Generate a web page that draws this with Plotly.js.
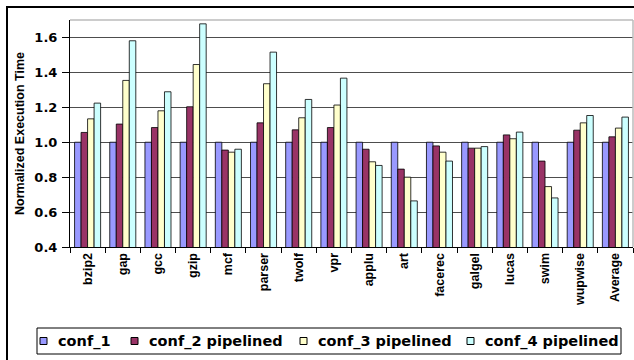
<!DOCTYPE html>
<html>
<head>
<meta charset="utf-8">
<script src="https://cdn.plot.ly/plotly-3.0.1.min.js"></script>
<style>
html,body{margin:0;padding:0;background:#fff;}
#chart{width:634px;height:360px;}
</style>
</head>
<body>
<div id="chart"></div>
<script>
const categories = ["bzip2","gap","gcc","gzip","mcf","parser","twolf","vpr","applu","art","facerec","galgel","lucas","swim","wupwise","Average"];
const conf1 = [1.0,1.0,1.0,1.0,1.0,1.0,1.0,1.0,1.0,1.0,1.0,1.0,1.0,1.0,1.0,1.0];
const conf2 = [1.056,1.104,1.084,1.203,0.955,1.111,1.071,1.084,0.960,0.846,0.979,0.966,1.042,0.892,1.069,1.031];
const conf3 = [1.134,1.354,1.180,1.445,0.943,1.335,1.140,1.213,0.888,0.800,0.943,0.966,1.020,0.746,1.111,1.081];
const conf4 = [1.224,1.581,1.289,1.678,0.960,1.516,1.245,1.367,0.867,0.664,0.892,0.975,1.058,0.681,1.153,1.144];
const seriesNames = ["conf_1","conf_2 pipelined","conf_3 pipelined","conf_4 pipelined"];
const seriesColors = ["#9999FF","#993366","#FFFFCC","#CCFFFF"];
const seriesValues = [conf1, conf2, conf3, conf4];

const traces = seriesValues.map((vals, i) => ({
  type: 'bar',
  name: seriesNames[i],
  x: categories,
  y: vals,
  base: 0,
  marker: {color: seriesColors[i], line: {color: '#000000', width: 0.8}},
  hoverinfo: 'skip',
  showlegend: false
}));

const L = 70, R = 633, T = 20, B = 247, W = 634, H = 360;
const pw = R - L, ph = B - T;
const px = v => (v - L) / pw;
const py = v => (B - v) / ph;

// legend key (drawn as a boxed key under the plot)
const legLeft = 37, legRight = 621, legTop = 328, legBottom = 354;
const legMid = (legTop + legBottom) / 2;
const keyX = [40, 131, 300, 467];
const keySize = 7, keyGap = 9;

const shapes = [
  {type: 'line', xref: 'paper', yref: 'paper', x0: 0, x1: 1, y0: 1, y1: 1,
   line: {color: '#bbbbbb', width: 1.5}},
  {type: 'line', xref: 'paper', yref: 'paper', x0: 1, x1: 1, y0: 0, y1: 1,
   line: {color: '#bbbbbb', width: 1.5}},
  {type: 'rect', xref: 'paper', yref: 'paper', x0: px(7), x1: px(700), y0: py(420), y1: py(7),
   line: {color: '#000000', width: 2}, fillcolor: 'rgba(0,0,0,0)', layer: 'above'},
  {type: 'rect', xref: 'paper', yref: 'paper', x0: px(legLeft), x1: px(legRight), y0: py(legBottom), y1: py(legTop),
   line: {color: '#000000', width: 1}, fillcolor: '#ffffff', layer: 'above'}
];
const annotations = [];
seriesNames.forEach((name, i) => {
  shapes.push({type: 'rect', xref: 'paper', yref: 'paper',
    x0: px(keyX[i]), x1: px(keyX[i] + keySize),
    y0: py(legMid + keySize / 2), y1: py(legMid - keySize / 2),
    line: {color: '#000000', width: 1}, fillcolor: seriesColors[i], layer: 'above'});
  annotations.push({xref: 'paper', yref: 'paper', x: px(keyX[i] + keySize + keyGap), y: py(legMid),
    xanchor: 'left', yanchor: 'middle', showarrow: false, text: name,
    font: {family: 'DejaVu Sans', size: 14.5, weight: 'bold', color: '#000'}});
});

const layout = {
  width: W, height: H,
  margin: {l: L, r: W - R, t: T, b: H - B, pad: 0},
  paper_bgcolor: '#ffffff',
  plot_bgcolor: '#ffffff',
  barmode: 'group',
  bargap: 0.26,
  bargroupgap: 0,
  showlegend: false,
  xaxis: {
    type: 'category',
    tickangle: -90,
    tickson: 'boundaries',
    ticks: 'outside', ticklen: 5, tickcolor: '#000', tickwidth: 1,
    showline: true, linecolor: '#000', linewidth: 1,
    showgrid: false,
    tickfont: {family: 'Liberation Sans', size: 12.5, weight: 'bold', color: '#000'},
    fixedrange: true
  },
  yaxis: {
    range: [0.4, 1.7],
    dtick: 0.2, tick0: 0.4,
    tickformat: '.1f',
    ticks: 'outside', ticklen: 7, tickcolor: '#000', tickwidth: 1,
    ticklabelstandoff: 2,
    showline: true, linecolor: '#000', linewidth: 1,
    showgrid: true, gridcolor: '#4d4d4d', gridwidth: 1,
    zeroline: false,
    tickfont: {family: 'DejaVu Sans', size: 13, weight: 'bold', color: '#000'},
    title: {text: 'Normalized Execution Time', standoff: 6,
            font: {family: 'Liberation Sans', size: 12.5, weight: 'bold', color: '#000'}},
    fixedrange: true
  },
  shapes: shapes,
  annotations: annotations
};

Plotly.newPlot('chart', traces, layout, {staticPlot: true, displayModeBar: false});
</script>
</body>
</html>
